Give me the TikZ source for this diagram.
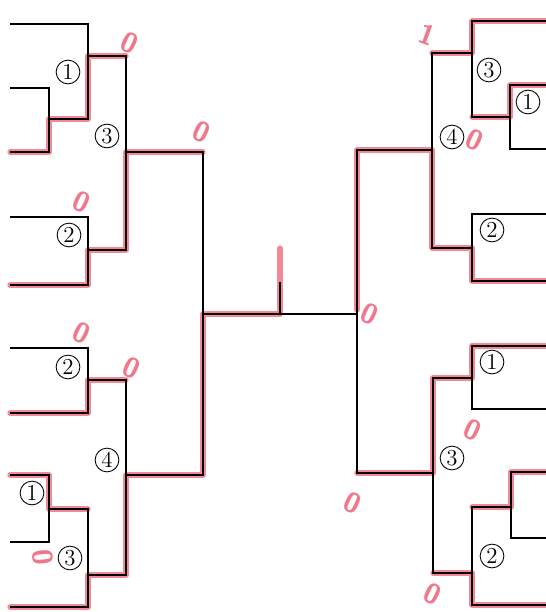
\documentclass[tikz,border=0pt]{standalone}
\usepackage{tikz}
\usetikzlibrary{calc}
\definecolor{pencil}{RGB}{238,96,118}

\begin{document}
\begin{tikzpicture}[x=0.02cm, y=-0.02cm, line width=0.9pt,
    win/.style={draw=pencil, line width=3pt, opacity=.75, line join=round, line cap=round},
    num/.style={circle, draw, line width=0.5pt, inner sep=0pt, minimum size=13.5pt, font=\fontsize{13}{13}\selectfont},
    score/.style={text=pencil, opacity=.85, font=\sffamily\bfseries\fontsize{16}{16}\selectfont, rotate=-25, inner sep=0pt}]
    \useasboundingbox (0,0) rectangle (546,612);

    % Red pencil: winners
    \draw[win] (10,152) -- (49,152) -- (49,119) -- (88,119) -- (88,56) -- (126,56);
    \draw[win] (10,285) -- (88,285) -- (88,250) -- (126,250) -- (126,152) -- (203,152);
    \draw[win] (10,413) -- (88,413) -- (88,380) -- (126,380);
    \draw[win] (10,475) -- (49,475) -- (49,509) -- (88,509);
    \draw[win] (10,607) -- (88,607) -- (88,575) -- (126,575) -- (126,475) -- (203,475) -- (203,314) -- (280,314) -- (280,248);
    \draw[win] (546,21) -- (472,21) -- (472,53) -- (432,53);
    \draw[win] (546,85) -- (510,85) -- (510,117) -- (472,117);
    \draw[win] (546,281) -- (472,281) -- (472,248) -- (432,248) -- (432,150) -- (357,150) -- (357,310);
    \draw[win] (546,346) -- (472,346) -- (472,378) -- (433,378) -- (433,473) -- (357,473);
    \draw[win] (546,472) -- (511,472) -- (511,507) -- (472,507);
    \draw[win] (546,605) -- (472,605) -- (472,573) -- (433,573);

    % Left block, upper half
    \draw (10,24) -- (88,24) -- (88,119) -- (49,119);
    \draw (10,88) -- (49,88) -- (49,152) -- (10,152);
    \draw (88,56) -- (126,56) -- (126,250) -- (88,250);
    \draw (10,217) -- (88,217) -- (88,285) -- (10,285);
    \draw (126,152) -- (203,152) -- (203,475) -- (126,475);

    % Left block, lower half
    \draw (10,348) -- (88,348) -- (88,413) -- (10,413);
    \draw (88,380) -- (126,380) -- (126,575) -- (88,575);
    \draw (10,475) -- (49,475) -- (49,542) -- (10,542);
    \draw (49,509) -- (88,509) -- (88,607) -- (10,607);

    % Final
    \draw (203,314) -- (357,314);
    \draw (280,282) -- (280,314);

    % Right block, upper half
    \draw (546,21) -- (472,21) -- (472,117) -- (510,117);
    \draw (546,85) -- (510,85) -- (510,149) -- (546,149);
    \draw (472,53) -- (432,53) -- (432,248) -- (472,248);
    \draw (546,214) -- (472,214) -- (472,281) -- (546,281);
    \draw (432,150) -- (357,150) -- (357,473) -- (433,473);

    % Right block, lower half
    \draw (546,346) -- (472,346) -- (472,409) -- (546,409);
    \draw (472,378) -- (433,378) -- (433,573) -- (472,573);
    \draw (546,472) -- (511,472) -- (511,538) -- (546,538);
    \draw (511,507) -- (472,507) -- (472,605) -- (546,605);

    % Circled numbers
    \node[num] (la1) at (68,72) {1};
    \node[num] (la3) at (107,136) {3};
    \node[num] (la2) at (69,235) {2};
    \node[num] (lb2) at (68,367) {2};
    \node[num] (lb4) at (107,460) {4};
    \node[num] (lb1) at (32,493) {1};
    \node[num] (lb3) at (70,558) {3};
    \node[num] (ra3) at (489,70) {3};
    \node[num] (ra1) at (528,102) {1};
    \node[num] (ra4) at (452,137) {4};
    \node[num] (ra2) at (492,230) {2};
    \node[num] (rb1) at (492,362) {1};
    \node[num] (rb3) at (452,458) {3};
    \node[num] (rb2) at (492,556) {2};

    % Scores in red pencil
    \node[score] (s1) at (130,43) {0};
    \node[score] (s2) at (202,132) {0};
    \node[score] (s3) at (82,202) {0};
    \node[score] (s4) at (82,333) {0};
    \node[score] (s5) at (132,368) {0};
    \node[score, rotate=-60] (s6) at (43,557) {0};
    \node[score] (s7) at (370,314) {0};
    \node[score, rotate=5] (s8) at (427,35) {1};
    \node[score] (s9) at (475,140) {0};
    \node[score] (s10) at (473,430) {0};
    \node[score] (s11) at (353,503) {0};
    \node[score] (s12) at (433,594) {0};
\end{tikzpicture}
\end{document}
